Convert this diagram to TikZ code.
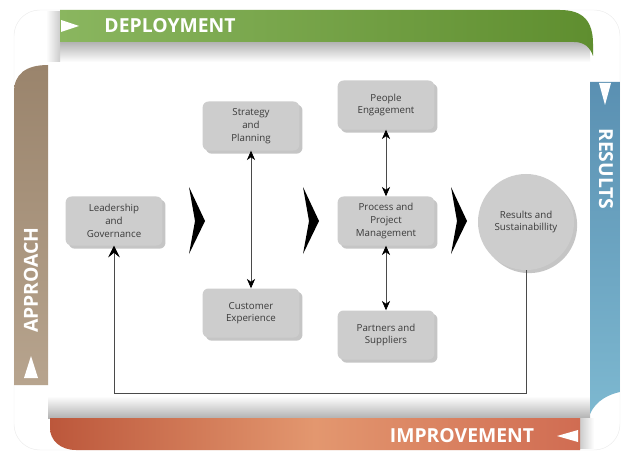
\documentclass[tikz,border=0pt]{standalone}
\usepackage{fontspec}
\setmainfont{Open Sans}
\usetikzlibrary{arrows.meta,shadows}
\definecolor{deplleft}{HTML}{8AB65F}
\definecolor{deplright}{HTML}{5F8E2F}
\definecolor{apprtop}{HTML}{9A846C}
\definecolor{apprbot}{HTML}{B7A48E}
\definecolor{restop}{HTML}{5A90B2}
\definecolor{resbot}{HTML}{7DB8D0}
\definecolor{impleft}{HTML}{BC573B}
\definecolor{impmid}{HTML}{E3976F}
\definecolor{impright}{HTML}{D06C52}
\definecolor{boxgray}{HTML}{CDCDCD}
\definecolor{textgray}{HTML}{3A3A3A}
\definecolor{linegray}{HTML}{4A4A4A}
\begin{document}
\begin{tikzpicture}[x=0.03cm,y=-0.03cm,
  box/.style={fill=boxgray, rounded corners=5pt, minimum width=2.9cm,
    minimum height=1.47cm, align=center, text=textgray,
    font=\fontsize{8.3}{10.8}\selectfont, drop shadow={opacity=0.45}},
  roundbox/.style={circle, fill=boxgray, minimum size=2.88cm, align=center,
    text=textgray, font=\fontsize{8.3}{10.8}\selectfont,
    drop shadow={opacity=0.45}},
  bandlabel/.style={text=white, font=\fontsize{16.5}{16.5}\selectfont\bfseries},
  link/.style={linegray, line width=0.6pt,
    {Stealth[length=8pt,width=7pt,inset=2.5pt,black]}-{Stealth[length=8pt,width=7pt,inset=2.5pt,black]}},
  feedback/.style={linegray, line width=0.6pt, -{Stealth[length=10pt,width=10pt,inset=4pt,black]}},
  chevron/.style={fill=black}]
\useasboundingbox (0,0) rectangle (622,452);
% frame and panel
\fill[white, draw=gray!15, rounded corners=22pt] (14,10) rectangle (620,450);
\shade[top color=gray!60, bottom color=white] (48,42) rectangle (590,62);
\shade[top color=white, bottom color=gray!60] (48,396) rectangle (590,418);
\shade[left color=white, right color=gray!40] (46,12) rectangle (60,62);
\shade[left color=gray!40, right color=white] (580,418) rectangle (594,448);
% bands
\shade[left color=deplleft, right color=deplright]
  (60,10) -- (560,10) .. controls (584,10) and (593,22) .. (593,44)
  -- (593,56) .. controls (590,47) and (584,42) .. (574,42) -- (60,42) -- cycle;
\shade[top color=apprtop, bottom color=apprbot]
  (14,385) -- (14,92) .. controls (14,74) and (26,65) .. (48,65)
  -- (48,385) -- cycle;
\shade[top color=restop, bottom color=resbot]
  (590,82) -- (620,82) -- (620,392) .. controls (610,394) and (596,400) .. (590,414) -- cycle;
\shade[left color=impleft, right color=impright, middle color=impmid]
  (50,418) -- (580,418) -- (580,450) -- (76,450) .. controls (60,450) and (50,440) .. (50,428) -- cycle;
\fill[white] (61,20) -- (79,26) -- (61,32) -- cycle;
\fill[white] (24,378) -- (31,356) -- (38,378) -- cycle;
\fill[white] (599,83) -- (611,83) -- (605,105) -- cycle;
\fill[white] (578,430) -- (557,436) -- (578,442) -- cycle;
\node[bandlabel] (depl) at (170,26) {DEPLOYMENT};
\node[bandlabel, rotate=90] (appr) at (31,280) {APPROACH};
\node[bandlabel, rotate=-90] (res) at (606,169) {RESULTS};
\node[bandlabel] (impr) at (462,436) {IMPROVEMENT};
% boxes
\node[box] (lead) at (114,221) {Leadership\\and\\Governance};
\node[box] (strat) at (251,126) {Strategy\\and\\Planning};
\node[box] (cust) at (251,313) {Customer\\Experience};
\node[box] (people) at (386,105) {People\\Engagement};
\node[box] (proc) at (386,221) {Process and\\Project\\Management};
\node[box] (part) at (386,335) {Partners and\\Suppliers};
\node[roundbox] (sust) at (526,222) {Results and\\Sustainabillity};
% chevrons
\fill[chevron] (189,187) -- (205,221) -- (189,254) -- (195,221) -- cycle;
\fill[chevron] (303,187) -- (319,221) -- (303,254) -- (309,221) -- cycle;
\fill[chevron] (451,187) -- (467,221) -- (451,254) -- (457,221) -- cycle;
% connectors
\draw[link] (strat.south) -- (cust.north);
\draw[link] (people.south) -- (proc.north);
\draw[link] (proc.south) -- (part.north);
\coordinate (turn) at (526,393);
\draw[feedback] (sust.south) -- (turn) -| (lead.south);
\end{tikzpicture}
\end{document}
